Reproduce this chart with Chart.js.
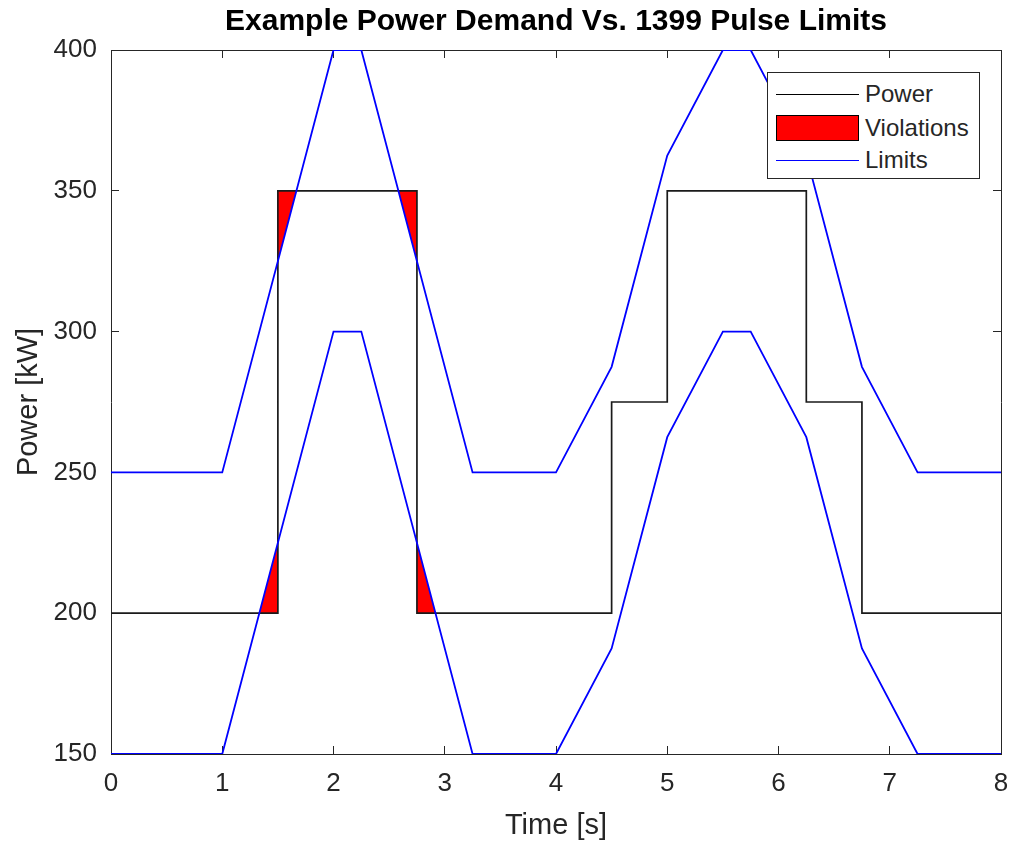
<!DOCTYPE html>
<html>
<head>
<meta charset="utf-8">
<script src="https://cdn.jsdelivr.net/npm/chart.js@4.4.1/dist/chart.umd.min.js"></script>
<style>
  html, body { margin: 0; padding: 0; background: #fff; }
  #wrap { position: relative; width: 1016px; height: 848px; }
  #legend {
    position: absolute; left: 767px; top: 72px; width: 211px; height: 105px;
    border: 1px solid #262626; background: #fff;
    font-family: 'Liberation Sans', Arial, sans-serif; font-size: 24px; color: #262626;
  }
  .item { position: absolute; left: 0; height: 30px; width: 211px; }
  .item span { position: absolute; left: 97px; top: 50%; transform: translateY(-50%); line-height: 1; }
  .sw-line { position: absolute; left: 8px; width: 83px; top: 50%; height: 0; }
  .sw-rect { position: absolute; left: 8px; width: 81px; top: 2px; height: 24px; background: #ff0000; border: 1px solid #000; }
</style>
</head>
<body>
<div id="wrap">
  <canvas id="c" width="1016" height="848"></canvas>
  <div id="legend">
    <div class="item" style="top:6px"><div class="sw-line" style="border-top:1.7px solid #000"></div><span>Power</span></div>
    <div class="item" style="top:40px"><div class="sw-rect"></div><span>Violations</span></div>
    <div class="item" style="top:72px"><div class="sw-line" style="border-top:1.7px solid #0000ff"></div><span>Limits</span></div>
  </div>
</div>
<script>
// ---- data ----
const powerTimes  = [0, 1.5, 2.75, 4.5, 5, 6.25, 6.75, 8];
const powerValues = [200, 350, 200, 275, 350, 275, 200, 200];

const limitTimes  = [0, 1, 2, 2.25, 3.25, 4, 4.5, 5, 5.5, 5.75, 6.25, 6.75, 7.25, 8];
const upperLimit  = [250, 250, 400, 400, 250, 250, 287.5, 362.5, 400, 400, 362.5, 287.5, 250, 250];
const lowerLimit  = [150, 150, 300, 300, 150, 150, 187.5, 262.5, 300, 300, 262.5, 187.5, 150, 150];

const violation1Times  = [1.5, 1.5, 1.6667];
const violation1Values = [325, 350, 350];
const violation2Times  = [2.5833, 2.75, 2.75];
const violation2Values = [350, 350, 325];
const violation3Times  = [1.3333, 1.5, 1.5];
const violation3Values = [200, 200, 225];
const violation4Times  = [2.75, 2.75, 2.9167];
const violation4Values = [225, 200, 200];

const xTicks = [0, 1, 2, 3, 4, 5, 6, 7, 8];
const yTicks = [150, 200, 250, 300, 350, 400];

// ---- helpers ----
const pts = (xs, ys) => xs.map((x, i) => ({ x: x, y: ys[i] }));
const FONT = "'Liberation Sans', Arial, Helvetica, sans-serif";
const AX = '#262626';

Chart.defaults.font.family = FONT;
Chart.defaults.color = AX;

function vioSet(xs, ys) {
  return {
    label: 'Violations', data: pts(xs, ys), fill: 'shape',
    backgroundColor: '#ff0000', borderColor: 'rgba(0,0,0,0)', borderWidth: 0,
    pointRadius: 0, order: 3, tension: 0
  };
}

const gridInward = { drawOnChartArea: false, drawTicks: true, tickLength: -8, color: AX, lineWidth: 1 };
const borderStyle = { display: true, color: AX, width: 1 };
const noPad = s => { s.paddingLeft = 0; s.paddingRight = 0; s.paddingTop = 0; s.paddingBottom = 0; };

new Chart(document.getElementById('c'), {
  type: 'line',
  data: {
    datasets: [
      { label: 'Limits', data: pts(limitTimes, upperLimit), borderColor: '#0000ff', borderWidth: 1.8, pointRadius: 0, fill: false, order: 0 },
      { label: 'Limits', data: pts(limitTimes, lowerLimit), borderColor: '#0000ff', borderWidth: 1.8, pointRadius: 0, fill: false, order: 1 },
      { label: 'Power', data: pts(powerTimes, powerValues), stepped: 'before', borderColor: '#1a1a1a', borderWidth: 1.7, pointRadius: 0, fill: false, order: 2 },
      vioSet(violation1Times, violation1Values),
      vioSet(violation2Times, violation2Values),
      vioSet(violation3Times, violation3Values),
      vioSet(violation4Times, violation4Values)
    ]
  },
  options: {
    responsive: false,
    animation: false,
    events: [],
    layout: { padding: 0 },
    plugins: {
      legend: { display: false },
      tooltip: { enabled: false },
      title: {
        display: true, fullSize: false,
        text: 'Example Power Demand Vs. 1399 Pulse Limits',
        color: '#000', font: { size: 30, weight: 'bold', family: FONT },
        padding: { top: 4, bottom: 2 }
      }
    },
    scales: {
      x: {
        type: 'linear', position: 'bottom', min: 0, max: 8,
        afterBuildTicks: s => { s.ticks = xTicks.map(v => ({ value: v })); },
        afterFit: s => { s.height = 94; noPad(s); },
        ticks: { padding: 22.5, font: { size: 26 }, color: AX, maxRotation: 0, autoSkip: false },
        grid: gridInward, border: borderStyle,
        title: { display: true, text: 'Time [s]', color: AX, font: { size: 29 }, padding: { top: 0, bottom: 4.6 } }
      },
      x2: {
        type: 'linear', position: 'top', min: 0, max: 8,
        afterBuildTicks: s => { s.ticks = xTicks.map(v => ({ value: v })); },
        afterFit: s => { s.height = 8; noPad(s); },
        ticks: { display: false },
        grid: gridInward, border: borderStyle
      },
      y: {
        type: 'linear', position: 'left', min: 150, max: 400,
        afterBuildTicks: s => { s.ticks = yTicks.map(v => ({ value: v })); },
        afterFit: s => { s.width = 111; noPad(s); },
        ticks: { padding: 22, font: { size: 26 }, color: AX },
        grid: gridInward, border: borderStyle,
        title: { display: true, text: 'Power [kW]', color: AX, font: { size: 29 }, padding: { top: 11.1, bottom: 0 } }
      },
      y2: {
        type: 'linear', position: 'right', min: 150, max: 400,
        afterBuildTicks: s => { s.ticks = yTicks.map(v => ({ value: v })); },
        afterFit: s => { s.width = 15; noPad(s); },
        ticks: { display: false },
        grid: gridInward, border: borderStyle
      }
    }
  }
});
</script>
</body>
</html>
